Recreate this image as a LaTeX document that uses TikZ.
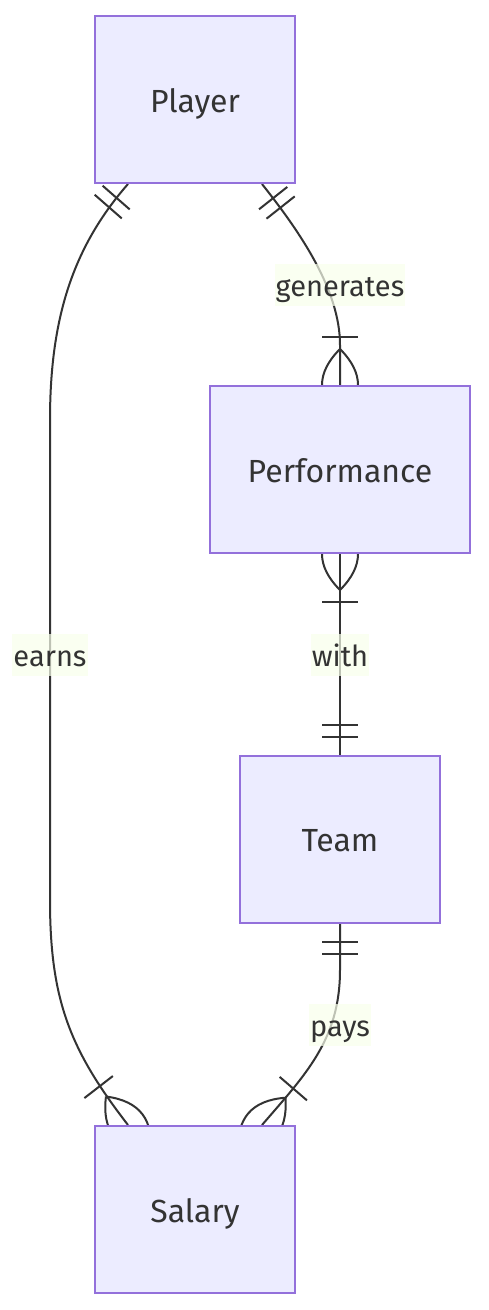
\documentclass[tikz,border=0pt]{standalone}
\usepackage{fontspec}
\setmainfont{Fira Sans}
\usetikzlibrary{decorations.markings,calc}
\definecolor{boxfill}{HTML}{ECECFF}
\definecolor{boxborder}{HTML}{9370DB}
\definecolor{textc}{HTML}{333333}
\definecolor{linec}{HTML}{333333}
\definecolor{lblbg}{RGB}{249,255,236}
\pgfdeclarelayer{bg}
\pgfsetlayers{bg,main}
\tikzset{
  entity/.style={draw=boxborder, fill=boxfill, line width=2pt, minimum width=200pt,
    minimum height=167pt, text=textc, font=\fontsize{32}{38}\selectfont, inner sep=0pt,
    text height=31pt, text depth=6pt},
  rellabel/.style={fill=lblbg, fill opacity=0.7, text opacity=1, text=textc,
    font=\fontsize{29}{35}\selectfont, inner xsep=1pt, inner ysep=6pt,
    text height=26pt, text depth=4pt},
  erline/.style={draw=linec, line width=2pt},
  barsstart/.style={postaction={decorate, decoration={markings,
    mark=at position 0 with {\draw[erline] (18pt,-18pt)--(18pt,18pt) (30pt,-18pt)--(30pt,18pt);}}}},
  barsend/.style={postaction={decorate, decoration={markings,
    mark=at position 1 with {\draw[erline] (-18pt,-18pt)--(-18pt,18pt) (-30pt,-18pt)--(-30pt,18pt);}}}},
  crowend/.style={postaction={decorate, decoration={markings,
    mark=at position 1 with {\draw[erline] (-48pt,-18pt)--(-48pt,18pt);
      \draw[erline] (-36pt,0pt) .. controls (-12pt,24pt) and (12pt,24pt) .. (36pt,0pt)
        .. controls (12pt,-24pt) and (-12pt,-24pt) .. (-36pt,0pt);}}}},
  crowstart/.style={postaction={decorate, decoration={markings,
    mark=at position 0 with {\draw[erline] (48pt,-18pt)--(48pt,18pt);
      \draw[erline] (36pt,0pt) .. controls (12pt,24pt) and (-12pt,24pt) .. (-36pt,0pt)
        .. controls (-12pt,-24pt) and (12pt,-24pt) .. (36pt,0pt);}}}},
}
\begin{document}
\begin{tikzpicture}[x=1pt,y=-1pt]
  \begin{pgfonlayer}{bg}
    \fill[white] (0,0) rectangle (488,1310);
  \end{pgfonlayer}
  \useasboundingbox (0,0) rectangle (488,1310);

  \node[entity] (player) at (195,99.5) {Player};
  \node[entity, minimum width=260pt] (perf) at (340,469.5) {Performance};
  \node[entity] (team) at (340,839) {Team};
  \node[entity] (salary) at (195,1209.5) {Salary};

  \begin{pgfonlayer}{bg}
    % earns
    \draw[erline, barsstart, crowend] ([xshift=-67pt]player.south)
      .. controls (72,248) and (50,320) .. (50,420) -- (50,900)
      .. controls (50,1000) and (70,1050) .. ([xshift=-67pt]salary.north);
    % generates
    \draw[erline, barsstart, crowend] ([xshift=67pt]player.south)
      .. controls (300,232) and (340,290) .. (340,345) -- (perf.north);
    % with
    \draw[erline, crowstart, barsend] (perf.south) -- (team.north);
    % pays
    \draw[erline, barsstart, crowend] (team.south) -- (340,970)
      .. controls (340,1040) and (305,1075) .. ([xshift=67pt]salary.north);
  \end{pgfonlayer}

  \node[rellabel] (lgen) at (340,285) {generates};
  \node[rellabel] (learn) at (50,655) {earns};
  \node[rellabel] (lwith) at (340,655) {with};
  \node[rellabel] (lpays) at (340,1025) {pays};
\end{tikzpicture}
\end{document}
